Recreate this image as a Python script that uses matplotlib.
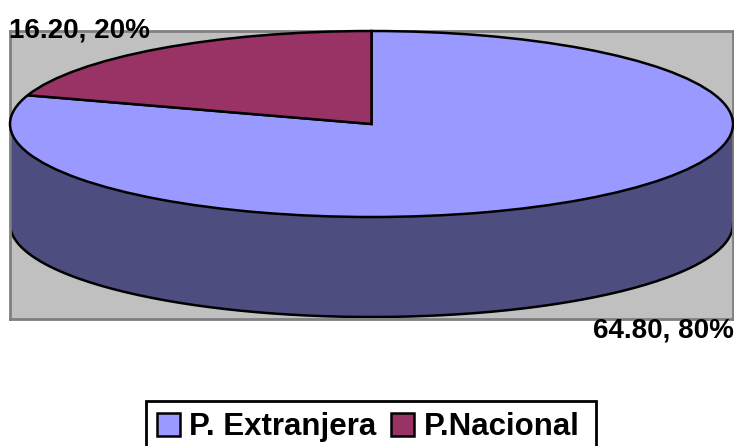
import matplotlib
matplotlib.use("Agg")
import matplotlib.pyplot as plt
from matplotlib.patches import Rectangle
import numpy as np

# ---- data
labels = ["P. Extranjera", "P.Nacional"]
values = [64.80, 16.20]
percents = [80, 20]
colors = ["#9999FF", "#993366"]
side_color = "#4D4D80"

plt.rcParams["font.family"] = ["Liberation Sans", "DejaVu Sans"]

W, H = 734, 446
fig = plt.figure(figsize=(W / 100, H / 100), dpi=100)

# plot area : grey box, pie stretched to an ellipse
left, right, top, bottom = 10, 733, 31, 319
ax = fig.add_axes([left / W, 1 - bottom / H, (right - left) / W, (bottom - top) / H])
ax.set_facecolor("#C0C0C0")

depth = 100 / 93

# side wall of the cylinder
t = np.linspace(np.pi, 2 * np.pi, 200)
ax.fill_between(np.cos(t), np.sin(t), np.sin(t) - depth, color=side_color, lw=0, zorder=1)
ax.plot(np.cos(t), np.sin(t) - depth, color="black", lw=1.8, zorder=2)
ax.plot([-1, -1], [0, -depth], color="black", lw=1.8, zorder=2)
ax.plot([1, 1], [0, -depth], color="black", lw=1.8, zorder=2)

wedges, _ = ax.pie(
    values,
    colors=colors,
    startangle=90,
    counterclock=False,
    wedgeprops={"edgecolor": "black", "linewidth": 1.8, "zorder": 3},
    frame=True,
)
ax.set_aspect("auto")
ax.set_xlim(-1, 1)
ax.set_ylim((124 - bottom) / 93, (124 - top) / 93)
ax.set_xticks([])
ax.set_yticks([])
for s in ax.spines.values():
    s.set_color("#808080")
    s.set_linewidth(2)

# data labels
fig.text(79 / W, 1 - 30.5 / H, f"{values[1]:.2f}, {percents[1]}%", fontsize=20,
         fontweight="bold", ha="center", va="center", color="black", zorder=5)
fig.text(663 / W, 1 - 330 / H, f"{values[0]:.2f}, {percents[0]}%", fontsize=20,
         fontweight="bold", ha="center", va="center", color="black", zorder=5)

# legend box drawn apart : its right padding is wider than the left one
fig.add_artist(Rectangle((146 / W, -0.01), 450 / W, (H - 401) / H + 0.01,
                         transform=fig.transFigure, facecolor="white",
                         edgecolor="black", linewidth=2))
leg = fig.legend(
    wedges,
    labels,
    ncol=2,
    loc="upper center",
    bbox_to_anchor=(368 / W, 1 - 402 / H),
    frameon=False,
    prop={"size": 22.5, "weight": "bold"},
    handlelength=0.75,
    handleheight=0.75,
    handletextpad=0.3,
    columnspacing=0.45,
    borderpad=0.32,
    borderaxespad=0,
)
for h in leg.legend_handles:
    h.set_edgecolor("black")
    h.set_linewidth(1.8)

fig.savefig("out.png", dpi=100)
